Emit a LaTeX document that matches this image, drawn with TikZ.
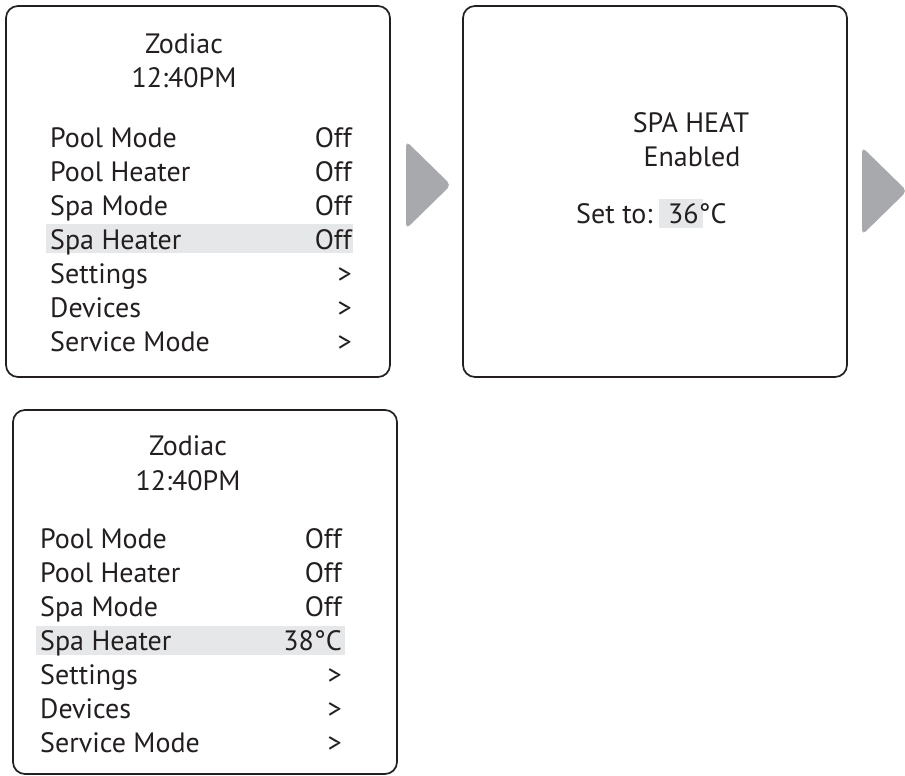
\documentclass[tikz,border=0pt]{standalone}
\usepackage{fontspec}
\setmainfont{PT Sans}
\usepackage{tikz}
\usetikzlibrary{calc}

\definecolor{inkdark}{HTML}{231F20}
\definecolor{arrowgray}{HTML}{A7A9AC}
\definecolor{selgray}{HTML}{E6E7E8}

\begin{document}
\begin{tikzpicture}[x=1pt, y=-1pt, every node/.style = {inner sep = 0pt,
text = inkdark, font = \fontsize{28}{33}\selectfont}]

\tikzset{
	screen_box/.style = {
		draw = inkdark, line width = 1.7pt, rounded corners = 12pt
	},
	next_arrow/.style = {
		fill = arrowgray, rounded corners = 5pt
	},
	sel_bar/.style = {
		fill = selgray
	},
	item_label/.style = {anchor = base west},
	item_value/.style = {anchor = base east},
	title_text/.style = {anchor = base}
}

\clip (0,0) rectangle (905,776);

% Pantalla 1
\draw[screen_box] (6,6) rectangle (390,377);
\fill[sel_bar] (46,224) rectangle (353,253);
\node[title_text] (t1a) at (184,54) {Zodiac};
\node[title_text] (t1b) at (184,88) {12:40PM};
\foreach \lab/\val [count=\i] in {Pool Mode/Off, Pool Heater/Off, Spa Mode/Off,
	Spa Heater/Off, Settings/>, Devices/>, Service Mode/>} {
	\node[item_label] (l1\i) at (50,{147+34*(\i-1)}) {\lab};
	\node[item_value] (v1\i) at (352,{147+34*(\i-1)}) {\val};
}

% Flecha 1
\fill[next_arrow] (406,141) -- (451,185) -- (406,229) -- cycle;

% Pantalla 2
\draw[screen_box] (463,6) rectangle (847,377);
\node[title_text] (t2a) at (691,132) {SPA HEAT};
\node[title_text] (t2b) at (692,166) {Enabled};
\fill[sel_bar] (659,199) rectangle (703,228);
\node[item_label] (set) at (576,223) {Set to:};
\node[item_label] (temp) at (668,223) {36°C};

% Flecha 2 (cortada por el borde)
\fill[next_arrow] (862,147) -- (907,191) -- (862,235) -- cycle;

% Pantalla 3
\draw[screen_box] (13,410) rectangle (397,774);
\fill[sel_bar] (36,626) rectangle (345,655);
\node[title_text] (t3a) at (188,455) {Zodiac};
\node[title_text] (t3b) at (188,490) {12:40PM};
\foreach \lab/\val [count=\i] in {Pool Mode/Off, Pool Heater/Off, Spa Mode/Off,
	Spa Heater/38°C, Settings/>, Devices/>, Service Mode/>} {
	\node[item_label] (l3\i) at (40,{548+34*(\i-1)}) {\lab};
	\node[item_value] (v3\i) at (342,{548+34*(\i-1)}) {\val};
}
\end{tikzpicture}
\end{document}
